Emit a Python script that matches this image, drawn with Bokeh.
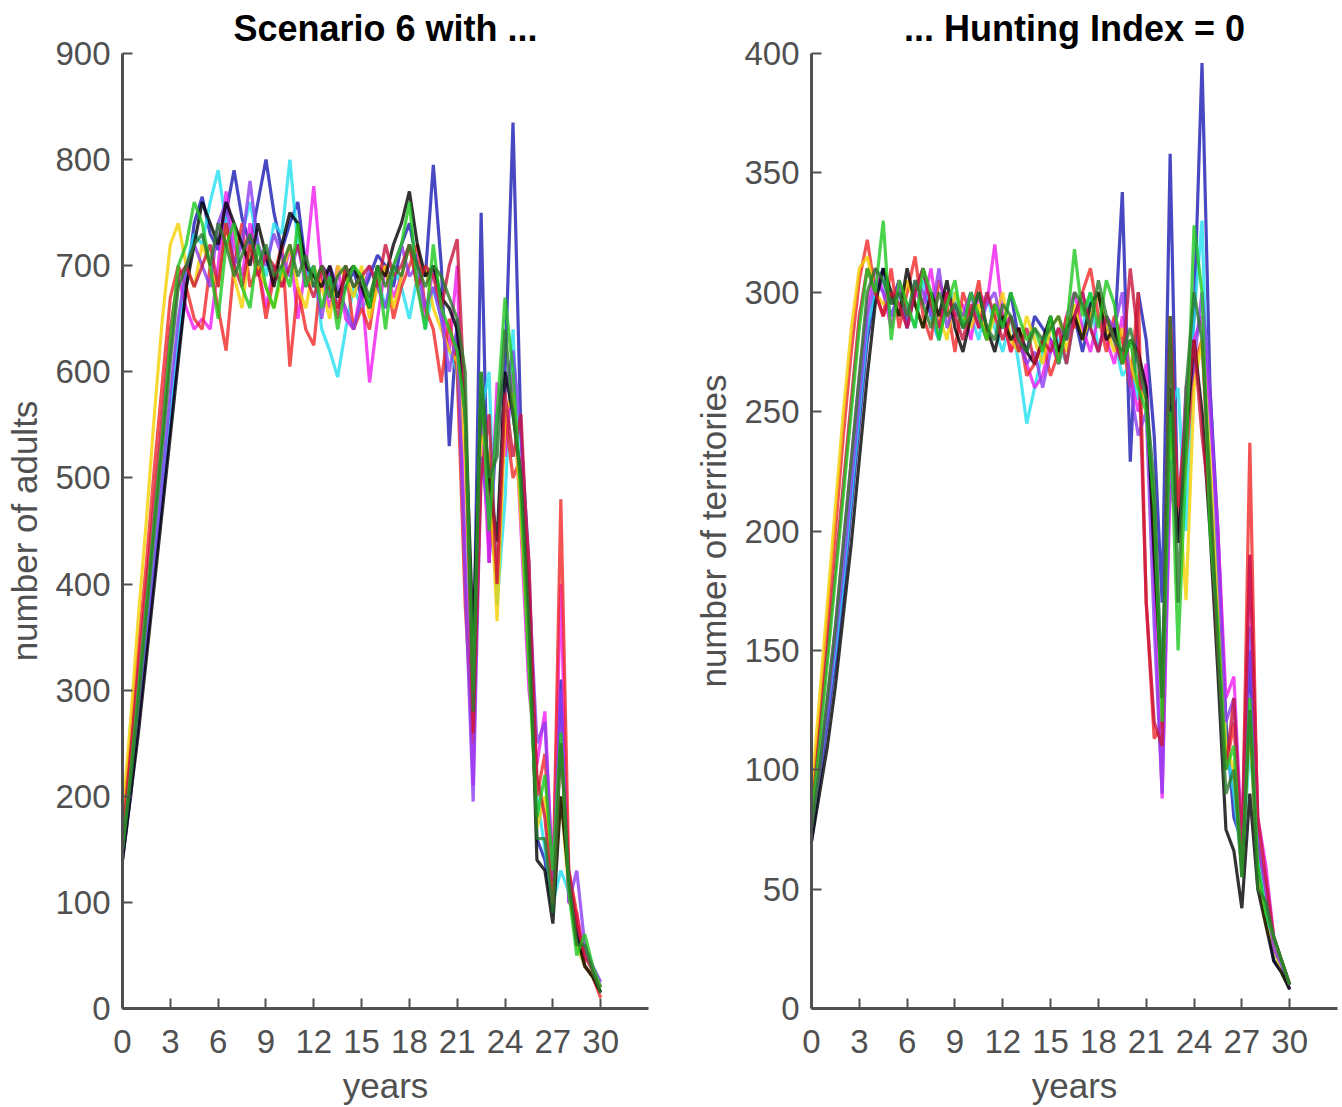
from bokeh.plotting import figure
from bokeh.layouts import row
from bokeh.models import Range1d, FixedTicker, ColumnDataSource
from bokeh.embed import file_html
from bokeh.resources import INLINE

# time axis: every half year, 0 .. 30
years = [i * 0.5 for i in range(61)]

run_colors = ["#1a1ab4", "#22e0f0", "#f01cf0", "#f02828", "#f5d000",
              "#8c3cf0", "#000000", "#c8143c", "#1ec81e", "#2a7a2a"]

# ---------------- number of adults (left panel) ----------------
adults_blue = [140, 200, 270, 340, 410, 480, 550, 620, 680, 740,
               765, 730, 715, 750, 790, 745, 720, 760, 800, 750,
               715, 740, 760, 700, 680, 700, 690, 660, 680, 695,
               670, 690, 710, 700, 680, 720, 740, 700, 690, 795,
               700, 530, 650, 560, 300, 750, 420, 560, 600, 835,
               540, 420, 160, 140, 90, 310, 120, 80, 40, 30,
               15]
adults_cyan = [150, 210, 280, 350, 420, 500, 570, 640, 700, 730,
               720, 760, 790, 740, 700, 730, 760, 720, 690, 740,
               730, 800, 720, 690, 700, 640, 620, 595, 640, 680,
               660, 670, 690, 660, 700, 680, 650, 690, 640, 680,
               650, 620, 600, 450, 280, 560, 600, 380, 480, 640,
               470, 350, 200, 150, 100, 130, 110, 60, 40, 30,
               20]
adults_magenta = [160, 230, 300, 380, 460, 540, 620, 690, 660, 640,
                  650, 640, 700, 770, 720, 690, 740, 700, 660, 700,
                  680, 720, 650, 700, 775, 690, 660, 700, 650, 640,
                  680, 590, 650, 700, 670, 690, 720, 680, 650, 700,
                  660, 620, 700, 420, 210, 560, 420, 590, 520, 600,
                  450, 300, 230, 280, 120, 400, 100, 90, 50, 40,
                  20]
adults_red = [170, 250, 340, 420, 510, 590, 670, 700, 680, 650,
              640, 700, 660, 620, 700, 740, 680, 700, 650, 690,
              720, 605, 680, 640, 625, 700, 680, 660, 700, 640,
              660, 640, 690, 700, 650, 680, 700, 720, 660, 640,
              590, 650, 600, 380, 250, 520, 480, 400, 560, 500,
              520, 420, 200, 240, 110, 480, 130, 90, 40, 30,
              10]
adults_yellow = [180, 270, 370, 460, 560, 650, 720, 740, 700, 680,
                 720, 700, 680, 740, 690, 660, 720, 700, 680, 660,
                 690, 720, 680, 660, 700, 680, 650, 700, 690, 670,
                 700, 650, 680, 700, 660, 690, 720, 680, 700, 660,
                 640, 620, 610, 520, 300, 540, 520, 365, 560, 580,
                 460, 330, 170, 200, 100, 200, 110, 60, 40, 30,
                 20]
adults_purple = [150, 210, 270, 340, 420, 500, 580, 650, 700, 720,
                 700, 680, 740, 760, 700, 720, 780, 720, 700, 730,
                 710, 690, 720, 680, 700, 650, 700, 680, 660, 640,
                 670, 700, 680, 660, 700, 720, 690, 700, 660, 680,
                 650, 600, 640, 400, 195, 520, 460, 560, 580, 620,
                 540, 400, 250, 270, 120, 300, 100, 130, 60, 40,
                 25]
adults_black = [140, 200, 260, 330, 400, 470, 540, 610, 680, 720,
                760, 740, 720, 760, 740, 720, 700, 740, 710, 680,
                720, 750, 740, 700, 690, 680, 700, 670, 690, 700,
                680, 660, 700, 690, 720, 740, 770, 720, 690, 700,
                670, 660, 640, 560, 350, 580, 500, 440, 600, 560,
                500, 380, 140, 130, 80, 200, 120, 70, 40, 30,
                15]
adults_crimson = [160, 240, 320, 400, 480, 560, 640, 690, 700, 680,
                  700, 720, 680, 740, 700, 680, 720, 690, 710, 700,
                  680, 700, 720, 690, 670, 700, 680, 650, 700, 680,
                  690, 700, 680, 720, 690, 700, 720, 680, 700, 690,
                  660, 700, 725, 560, 260, 500, 560, 400, 580, 520,
                  560, 400, 220, 180, 100, 250, 130, 80, 50, 35,
                  20]
adults_green = [150, 220, 300, 380, 460, 540, 630, 700, 720, 760,
                740, 700, 650, 720, 740, 680, 660, 720, 680, 660,
                700, 680, 740, 680, 700, 660, 690, 640, 680, 700,
                690, 660, 700, 640, 700, 720, 760, 680, 640, 720,
                660, 640, 620, 560, 300, 600, 450, 560, 670, 600,
                480, 320, 180, 220, 130, 260, 110, 50, 70, 40,
                20]
adults_darkgreen = [150, 215, 290, 370, 450, 530, 610, 680, 700, 720,
                    730, 700, 740, 720, 690, 710, 730, 700, 720, 690,
                    700, 720, 690, 710, 680, 700, 670, 690, 700, 680,
                    690, 670, 700, 680, 700, 690, 720, 700, 680, 700,
                    690, 670, 650, 600, 280, 600, 500, 520, 640, 560,
                    500, 360, 160, 160, 90, 250, 120, 60, 60, 35,
                    15]

# ---------------- number of territories (right panel) ----------------
terr_blue = [70, 95, 120, 145, 175, 210, 245, 280, 300, 310,
             295, 305, 285, 300, 310, 290, 280, 300, 295, 285,
             300, 290, 280, 295, 285, 300, 280, 275, 290, 285,
             280, 270, 285, 290, 275, 290, 300, 285, 280, 342,
             229, 300, 280, 240, 170, 358, 200, 240, 290, 396,
             260, 200, 120, 80, 70, 150, 60, 40, 20, 15,
             8]
terr_cyan = [80, 100, 125, 150, 180, 215, 250, 285, 300, 305,
             290, 300, 295, 285, 305, 290, 280, 295, 300, 285,
             290, 280, 300, 285, 275, 290, 270, 245, 260, 275,
             285, 280, 270, 290, 285, 300, 275, 290, 280, 265,
             270, 255, 260, 200, 140, 250, 260, 200, 290, 330,
             220, 180, 110, 90, 60, 110, 70, 40, 25, 15,
             8]
terr_magenta = [75, 100, 130, 160, 195, 230, 265, 295, 310, 300,
                285, 305, 290, 300, 295, 310, 285, 300, 290, 295,
                280, 300, 295, 320, 290, 275, 285, 270, 260, 265,
                280, 270, 290, 300, 285, 275, 290, 280, 270, 290,
                265, 250, 270, 180, 88, 220, 200, 260, 280, 290,
                250, 200, 130, 139, 70, 190, 80, 60, 30, 20,
                10]
terr_red = [85, 120, 160, 200, 240, 275, 305, 322, 300, 290,
            310, 285, 300, 315, 290, 280, 305, 295, 275, 300,
            290, 305, 280, 295, 290, 275, 285, 265, 270, 280,
            265, 275, 290, 285, 300, 310, 290, 275, 290, 280,
            260, 300, 170, 113, 120, 290, 200, 230, 270, 280,
            210, 160, 100, 120, 60, 237, 70, 50, 25, 20,
            10]
terr_yellow = [90, 130, 170, 210, 250, 285, 310, 315, 300, 295,
               300, 290, 305, 295, 285, 300, 290, 280, 300, 290,
               285, 295, 280, 290, 300, 280, 275, 290, 280, 270,
               285, 290, 275, 295, 280, 290, 300, 285, 275, 285,
               270, 260, 255, 200, 130, 240, 220, 171, 260, 280,
               230, 170, 110, 100, 60, 120, 55, 35, 25, 15,
               8]
terr_purple = [75, 100, 125, 155, 185, 220, 255, 290, 305, 300,
               290, 300, 285, 305, 300, 290, 310, 285, 295, 290,
               300, 285, 295, 300, 285, 290, 280, 270, 275, 260,
               275, 285, 280, 290, 300, 285, 275, 290, 285, 300,
               260, 240, 250, 160, 90, 230, 195, 250, 270, 300,
               260, 190, 120, 130, 65, 160, 70, 50, 25, 18,
               8]
terr_black = [70, 90, 110, 135, 165, 195, 230, 265, 295, 310,
              300, 290, 310, 295, 285, 300, 290, 305, 285, 275,
              290, 300, 285, 275, 290, 280, 285, 275, 270, 280,
              290, 275, 285, 290, 280, 295, 300, 280, 285, 270,
              280, 275, 260, 190, 130, 260, 195, 240, 280, 250,
              200, 140, 75, 66, 42, 90, 50, 35, 20, 15,
              8]
terr_crimson = [80, 115, 150, 185, 220, 255, 290, 310, 300, 290,
                300, 295, 285, 300, 310, 295, 285, 300, 290, 280,
                295, 285, 300, 290, 280, 290, 275, 285, 270, 280,
                275, 285, 270, 290, 300, 285, 275, 290, 280, 270,
                310, 280, 170, 120, 110, 290, 210, 250, 280, 240,
                210, 150, 100, 130, 65, 190, 80, 55, 30, 20,
                10]
terr_green = [80, 110, 145, 180, 215, 250, 285, 310, 300, 330,
              280, 305, 295, 285, 310, 300, 280, 295, 305, 285,
              300, 290, 280, 295, 285, 300, 290, 280, 285, 275,
              290, 270, 285, 318, 290, 300, 285, 305, 295, 270,
              280, 260, 250, 210, 120, 250, 150, 230, 328, 300,
              200, 160, 100, 110, 55, 130, 60, 40, 30, 20,
              10]
terr_darkgreen = [75, 100, 130, 160, 195, 230, 265, 300, 310, 305,
                  295, 300, 290, 305, 295, 285, 300, 290, 295, 285,
                  290, 300, 285, 280, 295, 290, 280, 275, 285, 280,
                  285, 290, 280, 300, 295, 285, 305, 290, 280, 275,
                  285, 270, 255, 220, 130, 290, 170, 260, 300, 280,
                  220, 150, 90, 100, 55, 125, 50, 45, 30, 20,
                  10]

adults_runs = [adults_blue, adults_cyan, adults_magenta, adults_red, adults_yellow,
               adults_purple, adults_black, adults_crimson, adults_green, adults_darkgreen]
terr_runs = [terr_blue, terr_cyan, terr_magenta, terr_red, terr_yellow,
             terr_purple, terr_black, terr_crimson, terr_green, terr_darkgreen]

x_ticks = [0, 3, 6, 9, 12, 15, 18, 21, 24, 27, 30]
adult_ticks = [0, 100, 200, 300, 400, 500, 600, 700, 800, 900]
terr_ticks = [0, 50, 100, 150, 200, 250, 300, 350, 400]

FONT = "Liberation Sans"
AXIS_COL = "#505050"


def make_panel(title, ylabel, runs, ymax, yticks, width, left, right):
    p = figure(width=width, height=1107, output_backend="svg", toolbar_location=None,
               x_range=Range1d(0, 33), y_range=Range1d(0, ymax),
               min_border_left=left, min_border_right=right,
               min_border_top=52, min_border_bottom=97)
    p.outline_line_color = None
    p.background_fill_color = "white"
    p.border_fill_color = "white"
    p.grid.visible = False
    p.title.text = title
    p.title.align = "center"
    p.title.text_font = FONT
    p.title.text_font_size = "36px"
    p.title.text_font_style = "bold"
    p.title.text_color = "#000000"
    for run, col in zip(runs, run_colors):
        src = ColumnDataSource(dict(x=years, y=run))
        p.line("x", "y", source=src, line_color=col, line_width=3.2, line_alpha=0.8)
    for ax in (p.xaxis[0], p.yaxis[0]):
        ax.axis_line_color = AXIS_COL
        ax.axis_line_width = 3
        ax.major_tick_line_color = AXIS_COL
        ax.major_tick_line_width = 2
        ax.major_tick_in = 10
        ax.major_tick_out = 0
        ax.minor_tick_line_color = None
        ax.major_label_text_font = FONT
        ax.major_label_text_font_size = "33px"
        ax.major_label_text_color = "#505050"
        ax.axis_label_text_font = FONT
        ax.axis_label_text_font_size = "35px"
        ax.axis_label_text_font_style = "normal"
        ax.axis_label_text_color = "#505050"
    p.xaxis.ticker = FixedTicker(ticks=x_ticks)
    p.yaxis.ticker = FixedTicker(ticks=yticks)
    p.xaxis.axis_label = "years"
    p.yaxis.axis_label = ylabel
    p.xaxis.major_label_standoff = 21
    p.xaxis.axis_label_standoff = 10
    p.yaxis.major_label_standoff = 12
    p.yaxis.axis_label_standoff = 8
    return p


p1 = make_panel("Scenario 6 with ...", "number of adults", adults_runs, 900, adult_ticks, 670, 122, 22)
p2 = make_panel("... Hunting Index = 0", "number of territories", terr_runs, 400, terr_ticks, 672, 141, 5)

layout = row(p1, p2)
open("out.html", "w").write(file_html(layout, INLINE))
